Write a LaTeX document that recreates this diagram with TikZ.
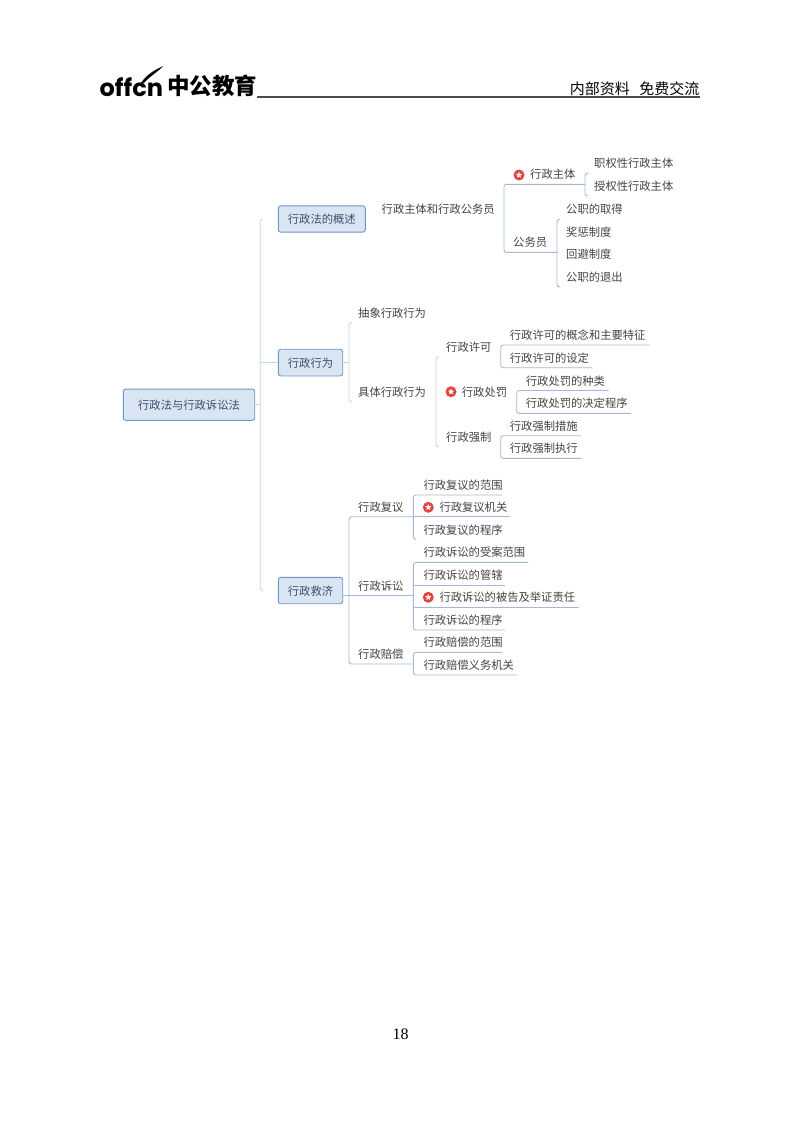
\documentclass[tikz,border=0pt]{standalone}
\usepackage{fontspec}
\setmainfont{Liberation Serif}
\newfontfamily\cjk{Noto Sans CJK SC}
\newfontfamily\logofont{Poppins}
\usetikzlibrary{shapes.geometric}
\definecolor{boxfill}{HTML}{DAE5F3}
\definecolor{boxline}{HTML}{6F97C6}
\definecolor{limbcol}{HTML}{C3D6E8}
\definecolor{twigcol}{HTML}{A5B9D6}
\definecolor{inkcol}{HTML}{444444}
\definecolor{boxink}{HTML}{3A4F69}
\definecolor{badgecol}{HTML}{E2453D}
\tikzset{
  topic/.style={draw=boxline,fill=boxfill,rounded corners=2.5pt,line width=0.9pt,text=boxink,inner sep=0pt,text height=11.4pt,text depth=1.9pt,font=\cjk\fontsize{11.3}{13}\selectfont},
  leaf/.style={anchor=south west,inner sep=0pt,minimum height=19pt,align=left,text=inkcol,font=\cjk\fontsize{11.3}{13}\selectfont,execute at begin node={\hspace*{#1}}},
  leaf/.default=9pt,
  limb/.style={draw=limbcol,line width=0.9pt,rounded corners=2.5pt},
  twig/.style={draw=twigcol,line width=0.9pt,rounded corners=2.5pt},
  badge/.style={circle,fill=badgecol,minimum size=11pt,inner sep=0pt},
  badgestar/.style={star,star points=5,star point ratio=2.2,fill=white,minimum size=6.5pt,inner sep=0pt}
}
\begin{document}
\begin{tikzpicture}[x=1pt,y=-1pt]
\path[fill=white,use as bounding box] (0,0) rectangle (800,1124);
\node[anchor=base west,inner sep=0pt,font=\logofont\bfseries\fontsize{24}{26}\selectfont] (offcn) at (99.5,96) {offcn};
\fill[black] (141,83) .. controls (147,74) and (155,70) .. (163,66) .. controls (158,72) and (150,76) .. (144,83) -- cycle;
\node[anchor=south west,inner sep=0pt,minimum height=22pt,font=\cjk\bfseries\fontsize{22.5}{24}\selectfont] (brand) at (167,97) {中公教育};
\node[anchor=south east,inner sep=0pt,minimum height=17pt,font=\cjk\fontsize{15}{16}\selectfont] (inner) at (699.5,97) {内部资料 \hspace{6pt}免费交流};
\draw[line width=1.2pt,black!70] (brand.south east) -- (inner.south east);

\node[topic,minimum width=131.4pt,minimum height=31.3pt] (root) at (189,404.7) {行政法与行政诉讼法};
\node[topic,minimum width=87pt,minimum height=26.3pt] (sketch) at (321.8,219) {行政法的概述};
\node[topic,minimum width=64.4pt,minimum height=26.7pt] (act) at (310.5,362.6) {行政行为};
\node[topic,minimum width=64.4pt,minimum height=26.4pt] (relief) at (310.5,590.5) {行政救济};

\draw[limb] ([xshift=-15pt]sketch.west) -- ++(-2.6,0) |- ([xshift=-15pt]relief.west);
\draw[limb] (act.west) -- ++(-17.6,0);
\draw[limb] (root.east) -- ++(6,0);

\node[anchor=west,inner sep=0pt,text=inkcol,font=\cjk\fontsize{11.3}{13}\selectfont] (staff) at (381.5,209) {行政主体和行政公务员};
\node[leaf=26pt,text width=81pt] (subject) at (504,184.3) {行政主体};
\node[leaf,text width=53pt] (clerk) at (504,252.3) {公务员};
\node[badge] (mark1) at (519,175) {};
\node[badgestar] at (mark1) {};
\draw[twig] (subject.south east) -- (subject.south west) -- (clerk.south west) -- (clerk.south east);

\node[leaf,text width=90pt] (power) at (585,173.3) {职权性行政主体};
\node[leaf,text width=90pt] (grant) at (585,196) {授权性行政主体};
\draw[twig] ([xshift=3pt]power.south west) -- (power.south west) -- (grant.south west) -- ([xshift=3pt]grant.south west);

\node[leaf,text width=70pt] (gain) at (557,219.3) {公职的取得};
\node[leaf,text width=70pt] (merit) at (557,242) {奖惩制度};
\node[leaf,text width=70pt] (avoid) at (557,264.3) {回避制度};
\node[leaf,text width=70pt] (quit) at (557,287) {公职的退出};
\draw[twig] ([xshift=3pt]gain.south west) -- (gain.south west) -- (quit.south west) -- ([xshift=3pt]quit.south west);

\node[leaf,text width=80pt] (abstract) at (349,322.7) {抽象行政行为};
\node[leaf,text width=80pt] (concrete) at (349,401.7) {具体行政行为};
\draw[limb] ([xshift=3pt]abstract.south west) -- (abstract.south west) -- (concrete.south west) -- ([xshift=3pt]concrete.south west);
\draw[limb] (act.east) -- (act.east -| concrete.west);

\node[leaf=10pt,text width=60pt] (permit) at (436,356.7) {行政许可};
\node[leaf=25.7pt,text width=75pt] (punish) at (436,402) {行政处罚};
\node[leaf=10pt,text width=60pt] (force) at (436,447) {行政强制};
\node[badge] (mark2) at (451,391.7) {};
\node[badgestar] at (mark2) {};
\draw[limb] ([xshift=3pt]permit.south west) -- (permit.south west) -- (force.south west) -- ([xshift=3pt]force.south west);

\node[leaf,text width=148.6pt] (permita) at (500.7,345) {行政许可的概念和主要特征};
\node[leaf,text width=91pt] (permitb) at (500.7,367.7) {行政许可的设定};
\draw[twig] (permita.south east) -- (permita.south west) -- (permitb.south west) -- (permitb.south east);

\node[leaf,text width=91.6pt] (punisha) at (516.7,390.5) {行政处罚的种类};
\node[leaf,text width=114pt] (punishb) at (516.7,413.3) {行政处罚的决定程序};
\draw[twig] (punisha.south east) -- (punisha.south west) -- (punishb.south west) -- (punishb.south east);

\node[leaf,text width=80pt] (forcea) at (500.7,435.7) {行政强制措施};
\node[leaf,text width=80pt] (forceb) at (500.7,458.3) {行政强制执行};
\draw[twig] (forcea.south east) -- (forcea.south west) -- (forceb.south west) -- (forceb.south east);

\node[leaf,text width=63.7pt] (review) at (349,516.7) {行政复议};
\node[leaf,text width=63.7pt] (suit) at (349,595.7) {行政诉讼};
\node[leaf,text width=63.7pt] (comp) at (349,664) {行政赔偿};
\draw[twig] (review.south east) -- (review.south west) -- (comp.south west) -- (comp.south east);
\draw[twig] (suit.south west) -- (suit.south east);
\draw[twig] (suit.south west) -- (suit.south west -| relief.east);

\node[leaf=10pt,text width=88.4pt] (reviewa) at (413.3,495) {行政复议的范围};
\node[leaf=26pt,text width=96.7pt] (reviewb) at (413.3,516.7) {行政复议机关};
\node[leaf=10pt,text width=90pt] (reviewc) at (413.3,539.5) {行政复议的程序};
\node[badge] (mark3) at (428.3,507.3) {};
\node[badgestar] at (mark3) {};
\draw[twig] (reviewa.south east) -- (reviewa.south west) -- (reviewc.south west) -- ([xshift=3pt]reviewc.south west);
\draw[twig] (reviewb.south west) -- (reviewb.south east);

\node[leaf=10pt,text width=114.4pt] (suita) at (413.3,562.3) {行政诉讼的受案范围};
\node[leaf=10pt,text width=91.7pt] (suitb) at (413.3,585) {行政诉讼的管辖};
\node[leaf=26pt,text width=165pt] (suitc) at (413.3,607.3) {行政诉讼的被告及举证责任};
\node[leaf=10pt,text width=91.7pt] (suitd) at (413.3,630) {行政诉讼的程序};
\node[badge] (mark4) at (428.3,597.3) {};
\node[badgestar] at (mark4) {};
\draw[twig] (suita.south east) -- (suita.south west) -- (suitd.south west) -- (suitd.south east);
\draw[twig] (suitb.south west) -- (suitb.south east);
\draw[twig] (suitc.south west) -- (suitc.south east);

\node[leaf=10pt,text width=88.4pt] (compa) at (413.3,652.3) {行政赔偿的范围};
\node[leaf=10pt,text width=103.4pt] (compb) at (413.3,675) {行政赔偿义务机关};
\draw[twig] (compa.south east) -- (compa.south west) -- (compb.south west) -- (compb.south east);

\node[inner sep=0pt,font=\fontsize{16}{18}\selectfont] (folio) at (400.5,1034.5) {18};
\end{tikzpicture}
\end{document}
